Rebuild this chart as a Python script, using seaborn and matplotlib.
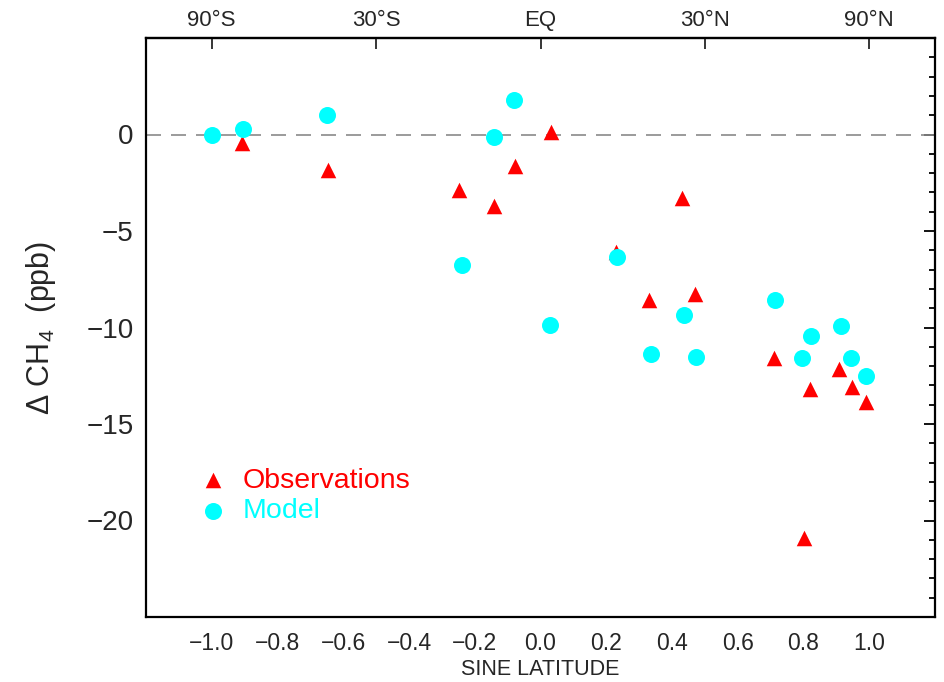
import matplotlib
matplotlib.use("Agg")
import matplotlib.pyplot as plt
import seaborn as sns
import pandas as pd
from matplotlib.ticker import MultipleLocator

# ---- data ----
obs_x = [-0.907, -0.647, -0.249, -0.140, -0.079, 0.032, 0.230, 0.330, 0.430, 0.469,
         0.711, 0.800, 0.820, 0.908, 0.948, 0.990]
obs_y = [-0.46, -1.84, -2.87, -3.70, -1.63, 0.15, -6.10, -8.55, -3.30, -8.25,
         -11.60, -20.90, -13.20, -12.15, -13.10, -13.87]

mod_x = [-1.000, -0.905, -0.650, -0.080, -0.140, -0.240, 0.030, 0.233, 0.336, 0.436,
         0.472, 0.712, 0.794, 0.824, 0.915, 0.945, 0.990]
mod_y = [0.00, 0.30, 1.00, 1.80, -0.15, -6.75, -9.85, -6.35, -11.35, -9.33,
         -11.55, -8.60, -11.60, -10.46, -9.90, -11.60, -12.50]

bottom_ticks = [-1.0, -0.8, -0.6, -0.4, -0.2, 0.0, 0.2, 0.4, 0.6, 0.8, 1.0]
top_ticks = [-1.0, -0.5, 0.0, 0.5, 1.0]
top_labels = ["90°S", "30°S", "EQ", "30°N", "90°N"]
y_ticks = [-20, -15, -10, -5, 0]

obs = pd.DataFrame({"x": obs_x, "y": obs_y})
mod = pd.DataFrame({"x": mod_x, "y": mod_y})

sns.set_theme(style="white")
plt.rcParams["font.family"] = ["Liberation Sans", "DejaVu Sans"]
plt.rcParams["mathtext.default"] = "regular"

fig = plt.figure(figsize=(9.44, 6.82), dpi=100)
ax = fig.add_axes([146 / 944, 65 / 682, 789 / 944, 579 / 682])

ax.axhline(0, color="#8a8a8a", lw=1.2, dashes=(9, 6), zorder=1)

sns.scatterplot(data=obs, x="x", y="y", ax=ax, marker="^", s=125, color="red",
                linewidth=0, label="Observations", zorder=3)
sns.scatterplot(data=mod, x="x", y="y", ax=ax, marker="o", s=150, color="cyan",
                linewidth=0, label="Model", zorder=4)

ax.set_xlim(-1.2, 1.2)
ax.set_ylim(-25, 5)
ax.set_xticks(bottom_ticks)
ax.set_xticklabels([f"{t:.1f}".replace("-", "\u2212") for t in bottom_ticks])
ax.xaxis.set_minor_locator(MultipleLocator(0.1))
ax.set_yticks(y_ticks)
ax.set_yticklabels([f"{t}".replace("-", "\u2212") for t in y_ticks])
ax.yaxis.set_minor_locator(MultipleLocator(1))

for s in ax.spines.values():
    s.set_linewidth(1.6)
    s.set_color("black")

ax.tick_params(which="both", direction="in", top=False, right=True, color="black", width=1.3)
ax.tick_params(which="major", length=8)
ax.tick_params(which="minor", length=4)
ax.tick_params(axis="y", labelsize=20, pad=9)
ax.tick_params(axis="x", labelsize=16.5, pad=11)

sec = ax.secondary_xaxis("top")
sec.set_xticks(top_ticks)
sec.set_xticklabels(top_labels)
sec.tick_params(direction="in", length=8, width=1.3, labelsize=16, pad=5)
sec.xaxis.set_minor_locator(plt.NullLocator())
sec.spines["top"].set_linewidth(1.6)

ax.set_xlabel("SINE LATITUDE", fontsize=15.5,
              family=["Liberation Sans Narrow", "Liberation Sans", "DejaVu Sans"], labelpad=3)
ax.set_ylabel("Δ CH$_4$  (ppb)", fontsize=22, labelpad=20)

leg = ax.legend(loc="center left", bbox_to_anchor=(0.067, 0.209), frameon=False,
                fontsize=20.5, handlelength=1.0, handletextpad=0.55, labelspacing=0.15,
                borderpad=0, borderaxespad=0, labelcolor="markerfacecolor")

fig.savefig("out.png", dpi=100)
